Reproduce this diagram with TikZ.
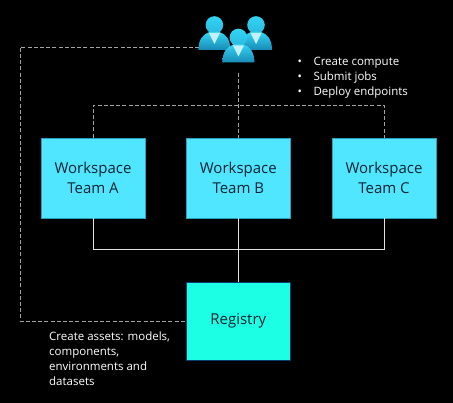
\documentclass[tikz,border=0pt]{standalone}
\usepackage{fontspec}
\setmainfont{Open Sans}
\usetikzlibrary{arrows.meta,positioning,calc}
\definecolor{wsfill}{RGB}{80,230,255}
\definecolor{wsline}{RGB}{40,160,190}
\definecolor{regfill}{RGB}{28,255,228}
\definecolor{regline}{RGB}{10,60,110}
\definecolor{boxtext}{RGB}{10,35,50}
\definecolor{dashgray}{RGB}{165,165,165}
\definecolor{solidgray}{RGB}{225,225,225}
\definecolor{usertop}{RGB}{50,212,245}
\definecolor{userbot}{RGB}{25,138,179}
\definecolor{usertie}{RGB}{195,241,255}
\newcommand{\userIcon}[2]{%
  \shade[top color=usertop, bottom color=usertop!65!userbot] (#1,#2) circle (8.8);
  \shade[top color=usertop, bottom color=userbot]
    (#1-16,#2+25) .. controls (#1-16,#2+14) and (#1-11,#2+9) .. (#1-5,#2+7)
    -- (#1+5,#2+7) .. controls (#1+11,#2+9) and (#1+16,#2+14) .. (#1+16,#2+25)
    -- cycle;
  \fill[usertie] (#1-5.5,#2+8) -- (#1+5.5,#2+8) -- (#1,#2+19) -- cycle;
}
\tikzset{
  wsbox/.style={draw=wsline, fill=wsfill, thick, minimum width=104pt, minimum height=80pt,
                inner sep=0pt, align=center, text=boxtext, font=\fontsize{15}{19.5}\selectfont},
  regbox/.style={wsbox, draw=regline, fill=regfill, minimum height=78pt},
  notetxt/.style={text=white, align=left, inner sep=0pt, font=\fontsize{11.5}{15}\selectfont},
  dashln/.style={dashgray, line width=0.9pt, dash pattern=on 4pt off 2.2pt},
  solidln/.style={solidgray, line width=1pt},
}
\begin{document}
\begin{tikzpicture}[x=1pt, y=-1pt]
  \fill[black] (0,0) rectangle (453,403);
  \useasboundingbox (0,0) rectangle (453,403);
  \node[wsbox] (teamA) at (93,178) {Workspace\\Team A};
  \node[wsbox] (teamB) at (238.3,178) {Workspace\\Team B};
  \node[wsbox] (teamC) at (384,178) {Workspace\\Team C};
  \node[regbox] (registry) at (238.3,321) {Registry};
  \coordinate (usersL) at (199,47);
  \coordinate (usersB) at (238.3,73);
  \coordinate (dashjoin) at (238.3,105);
  \coordinate (solidjoin) at (238.3,249.5);
  % dashed links
  \draw[dashln] (usersL) -- (20,47) -- (20,321) -- (registry.west);
  \draw[dashln] (usersB) -- (teamB.north);
  \draw[dashln] (teamA.north) |- (dashjoin) -| (teamC.north);
  % solid links
  \draw[solidln] (teamA.south) |- (solidjoin) -| (teamC.south);
  \draw[solidln] (teamB.south) -- (registry.north);
  % users
  \userIcon{256}{25}
  \userIcon{214.4}{25}
  \userIcon{238.4}{37.5}
  \node[notetxt, anchor=north west] (jobs) at (297.5,56.5)
    {\textbullet\hspace{11.5pt}Create compute\\\textbullet\hspace{11.5pt}Submit jobs\\\textbullet\hspace{11.5pt}Deploy endpoints};
  \node[notetxt, anchor=north west] (assets) at (49,331.5)
    {Create assets: models,\\components,\\environments and\\datasets};
\end{tikzpicture}
\end{document}
